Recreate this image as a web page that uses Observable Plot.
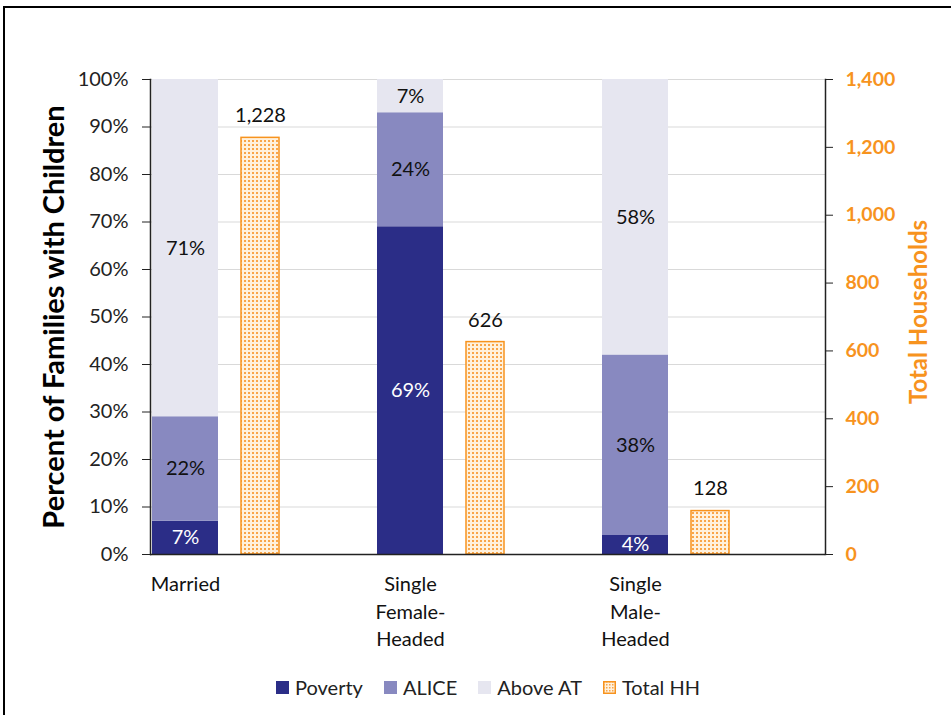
<!DOCTYPE html>
<html><head><meta charset="utf-8">
<script src="https://cdn.jsdelivr.net/npm/d3@7"></script>
<script src="https://cdn.jsdelivr.net/npm/@observablehq/plot@0.6"></script>
<style>
body{margin:0;background:#fff;font-family:Lato,sans-serif;overflow:hidden;width:951px;height:715px;position:relative}
#border{position:absolute;left:3px;top:6px;width:1000px;height:800px;border:2px solid #000;box-sizing:border-box;pointer-events:none}
#chart{position:absolute;left:0;top:0}
#legend{position:absolute;left:276px;top:675px;display:flex;align-items:center;font-size:20px;color:#222;line-height:24px}
#legend .item{display:flex;align-items:center;margin-right:21px}
#legend .sw{width:13px;height:13px;margin-right:6px;display:block}
</style>
</head><body>
<div id="border"></div>
<div id="chart"></div>
<div id="legend"></div>
<script>
// ---- data ----
const categories = ["Married", "Single Female-Headed", "Single Male-Headed"];
const categoryLabels = ["Married", "Single\nFemale-\nHeaded", "Single\nMale-\nHeaded"];
const seriesNames = ["Poverty", "ALICE", "Above AT"];
const poverty = [7, 69, 4];
const alice = [22, 24, 38];
const aboveAT = [71, 7, 58];
const totalHH = [1228, 626, 128];
const pctTicks = [0, 10, 20, 30, 40, 50, 60, 70, 80, 90, 100];
const hhTicks = [0, 200, 400, 600, 800, 1000, 1200, 1400];
const hhMax = 1400;

// ---- styles ----
const seriesColors = ["#2b2d87", "#8889c0", "#e6e6f0"];
const orange = "#f7931e";

const seriesValues = [poverty, alice, aboveAT];
const stackRows = [];
categories.forEach((c, i) => seriesNames.forEach((s, j) => stackRows.push({cat: c, series: s, value: seriesValues[j][i]})));
const totalRows = categories.map((c, i) => ({cat: c, total: totalHH[i]}));
const slots = categories.flatMap(c => [c + "|s", c + "|t", c + "|e"]);
const fmt = d3.format(",");
const sx = d => d.cat + "|s";

const svg = Plot.plot({
  width: 951, height: 665,
  marginTop: 79, marginBottom: 111, marginLeft: 150, marginRight: 126,
  style: {fontFamily: "Lato, sans-serif", fontSize: "20px", color: "#222", background: "transparent"},
  x: {type: "band", domain: slots, padding: 0, axis: null},
  y: {domain: [0, 100]},
  color: {domain: seriesNames, range: seriesColors},
  marks: [
    Plot.ruleY(pctTicks.slice(1), {stroke: "#d9d9d9", strokeWidth: 1}),
    Plot.barY(stackRows, {x: sx, y: "value", fill: "series", insetLeft: 2, insetRight: 7}),
    Plot.barY(totalRows, {x: d => d.cat + "|t", y: d => d.total / hhMax * 100, fill: "url(#dots)", stroke: orange, strokeWidth: 1.5, insetLeft: 16, insetRight: 21}),
    Plot.ruleY([0], {stroke: "#222", strokeWidth: 1.5}),
    Plot.frame({anchor: "left", stroke: "#222", strokeWidth: 1.5}),
    Plot.frame({anchor: "right", stroke: "#222", strokeWidth: 1.5}),
    Plot.axisY(pctTicks, {anchor: "left", tickFormat: d => d + "%", tickSize: 8, tickPadding: 14, fontSize: 20, label: null, stroke: "#222", fill: "#222"}),
    Plot.axisY(hhTicks.map(v => v / hhMax * 100), {anchor: "right", tickFormat: d => fmt(Math.round(d * hhMax / 100)), tickSize: 7, tickPadding: 13, fontSize: 19.5, fontWeight: "bold", label: null, stroke: "#222", fill: orange}),
    Plot.text(stackRows, Plot.stackY({x: sx, y: "value", text: d => d.series === "Poverty" ? "" : d.value + "%", fill: "#111", dx: -2.5, fontSize: 20})),
    Plot.text(stackRows.filter(d => d.series === "Poverty"), Plot.stackY({x: sx, y: "value", text: d => d.value + "%", fill: "white", dx: -2.5, fontSize: 20})),
    Plot.text(totalRows, {x: d => d.cat + "|t", y: d => d.total / hhMax * 100, text: d => fmt(d.total), dy: -22, dx: -2.5, fill: "#111", fontSize: 20}),
    Plot.text(categories, {x: d => d + "|s", text: (d, i) => categoryLabels[i], frameAnchor: "bottom", lineAnchor: "top", dy: 17, dx: -2.5, lineHeight: 1.38, fill: "#111", fontSize: 20}),
    Plot.text(["Percent of Families with Children"], {frameAnchor: "left", textAnchor: "middle", rotate: -90, dx: -96, fontSize: 29, fontWeight: "bold", fill: "#000"}),
    Plot.text(["Total Households"], {frameAnchor: "right", textAnchor: "middle", rotate: -90, dx: 94, dy: -5, fontSize: 24, fontWeight: "bold", fill: orange})
  ]
});

d3.select(svg).insert("defs", ":first-child").html(
  `<pattern id="dots" width="4" height="4" patternUnits="userSpaceOnUse">
     <rect width="4" height="4" fill="#fff1dd"/>
     <rect width="2" height="2" fill="#f9a548"/>
   </pattern>`);
document.getElementById("chart").appendChild(svg);

// legend
const legend = d3.select("#legend");
seriesNames.forEach((s, i) => {
  const it = legend.append("div").attr("class", "item");
  it.append("span").attr("class", "sw").style("background", seriesColors[i]);
  it.append("span").text(s);
});
const it = legend.append("div").attr("class", "item");
it.append("span").html(`<svg class="sw" width="13" height="13" viewBox="0 0 13 13"><defs><pattern id="dots2" width="3" height="3" patternUnits="userSpaceOnUse"><rect width="3" height="3" fill="#fff1dd"/><rect width="1.5" height="1.5" fill="#f9a548"/></pattern></defs><rect x="0.75" y="0.75" width="11.5" height="11.5" fill="url(#dots2)" stroke="${orange}" stroke-width="1.5"/></svg>`);
it.append("span").text("Total HH");
</script>
</body></html>
